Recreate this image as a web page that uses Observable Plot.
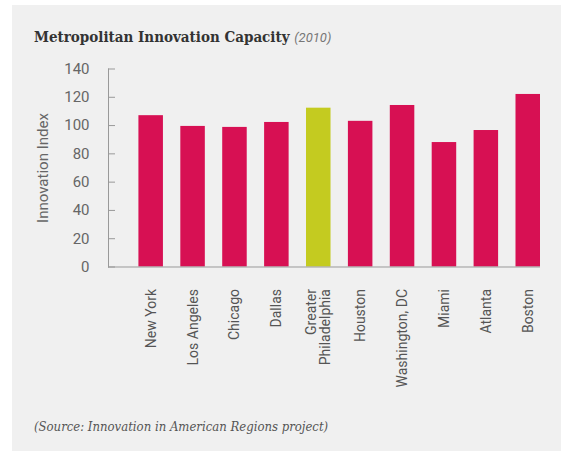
<!DOCTYPE html>
<html><head><meta charset="utf-8">
<script src="https://cdn.jsdelivr.net/npm/d3@7"></script>
<script src="https://cdn.jsdelivr.net/npm/@observablehq/plot@0.6"></script>
<style>
body{margin:0;background:#fff;}
#wrap{position:relative;width:561px;height:453px;overflow:hidden;}
#panel{position:absolute;left:12px;top:5px;width:549px;height:446px;background:#f0f0f0;}
#title{position:absolute;left:34px;top:28px;line-height:15px;font:bold 15px "DejaVu Serif Condensed","DejaVu Serif";color:#333;white-space:nowrap;}
#title span{font:italic 13px Roboto;color:#777;font-weight:normal;}
#caption{position:absolute;left:34px;top:419px;line-height:13px;font:italic 13px "DejaVu Serif Condensed","DejaVu Serif";color:#555;white-space:nowrap;}
#chart{position:absolute;left:0;top:0;}
</style>
</head><body>
<div id="wrap">
<div id="panel"></div>
<div id="title">Metropolitan Innovation Capacity <span>(2010)</span></div>
<div id="chart"></div>
<div id="caption">(Source: Innovation in American Regions project)</div>
</div>
<script>
const cities = ["New York","Los Angeles","Chicago","Dallas","Greater\nPhiladelphia","Houston","Washington, DC","Miami","Atlanta","Boston"];
const values = [107, 99.4, 98.7, 102.2, 112.3, 103, 114.2, 88, 96.5, 122];
const highlight = "Greater\nPhiladelphia";
const yTicks = [0, 20, 40, 60, 80, 100, 120, 140];
const crimson = "#d71053";
const green = "#c4cb20";

const data = cities.map((c, i) => ({city: c, value: values[i]}));

const chart = Plot.plot({
  width: 561,
  height: 400,
  marginTop: 68.5,
  marginBottom: 133.5,
  marginLeft: 108,
  marginRight: 21,
  style: {fontFamily: "Roboto", fontSize: "14px", background: "transparent", color: "#666"},
  x: {domain: cities, paddingInner: 0.415, paddingOuter: 0.363, align: 1, round: false},
  y: {domain: [0, 140]},
  color: {type: "identity"},
  marks: [
    Plot.barY(data, {x: "city", y: "value", fill: d => d.city === highlight ? green : crimson}),
    Plot.frame({anchor: "left", stroke: "#999"}),
    Plot.ruleY([0], {stroke: "#999"}),
    Plot.axisY({ticks: yTicks, tickSize: -7, tickPadding: 26, stroke: "#999", fill: "#666",
      label: "Innovation Index", labelAnchor: "center", labelArrow: "none", labelOffset: 71, fontSize: 15}),
    Plot.axisX({tickSize: 0, tickPadding: 22, tickRotate: -90, label: null, fill: "#555"})
  ]
});
document.getElementById("chart").appendChild(chart);
</script>
</body></html>
